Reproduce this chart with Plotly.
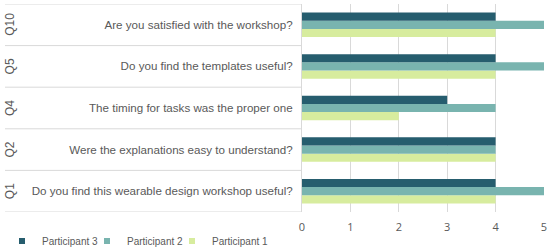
import plotly.graph_objects as go

codes = ["Q1", "Q2", "Q4", "Q5", "Q10"]
questions = [
    "Do you find this wearable design workshop useful?",
    "Were the explanations easy to understand?",
    "The timing for tasks was the proper one",
    "Do you find the templates useful?",
    "Are you satisfied with the workshop?",
]
participant1 = [4, 4, 2, 4, 4]
participant2 = [5, 4, 4, 5, 5]
participant3 = [4, 4, 3, 4, 4]
x_ticks = [0, 1, 2, 3, 4, 5]

series = [
    ("Participant 1", participant1, "#d7ec9e"),
    ("Participant 2", participant2, "#79b4af"),
    ("Participant 3", participant3, "#265d6e"),
]
# legend slots (left to right): Participant 3, Participant 2, Participant 1
legend_ids = {"Participant 3": "legend", "Participant 2": "legend2", "Participant 1": "legend3"}
legend_x = {"legend": 2, "legend2": 87, "legend3": 172}

fig = go.Figure()
for name, vals, col in series:
    fig.add_trace(go.Bar(
        y=codes, x=vals, name=name, orientation="h",
        marker=dict(color=col, line=dict(width=0)),
        legendgroup=name, showlegend=False,
    ))
    fig.add_trace(go.Scatter(
        x=[None], y=[None], mode="markers", name=name, legendgroup=name,
        marker=dict(symbol="square", size=6, color=col),
        legend=legend_ids[name], showlegend=True, hoverinfo="skip",
    ))

text_col = "#595959"
grid_col = "#d9d9d9"

annotations = []
shapes = []
for c in codes:
    annotations.append(dict(
        x=0, xref="paper", y=c, yref="y", text=c, showarrow=False,
        textangle=-90, xshift=-292, xanchor="center", yanchor="middle",
        font=dict(size=12, color=text_col, family="Liberation Sans, Arial"),
    ))
for i in range(len(codes) + 1):
    shapes.append(dict(
        type="line", xref="paper", xsizemode="pixel", xanchor=0,
        x0=-297, x1=0, yref="y", y0=i - 0.5, y1=i - 0.5,
        line=dict(color=grid_col, width=1),
    ))

W = 550
legend_common = dict(
    orientation="h", xref="container", xanchor="left",
    y=-0.14, yref="paper", yanchor="middle",
    font=dict(size=10, color=text_col, family="Liberation Sans, Arial"),
    itemwidth=30, bgcolor="rgba(0,0,0,0)", borderwidth=0,
)
legends = {}
for lid, px in legend_x.items():
    legends[lid] = dict(legend_common, x=px / W)

fig.update_layout(
    width=W, height=249,
    margin=dict(l=302, r=6, t=4, b=37, autoexpand=False),
    paper_bgcolor="white", plot_bgcolor="white",
    barmode="group", bargap=0.41, bargroupgap=0,
    font=dict(family="Liberation Sans, Arial", color=text_col, size=12),
    xaxis=dict(
        range=[0, 5], tickvals=x_ticks, showgrid=True, gridcolor=grid_col,
        gridwidth=1, zeroline=False, showline=False, ticks="",
        tickfont=dict(size=11, color=text_col, family="Open Sans, Liberation Sans"),
        automargin=False, ticklabelstandoff=7,
    ),
    yaxis=dict(
        categoryorder="array", categoryarray=codes,
        tickvals=codes, ticktext=questions, ticks="",
        showline=True, linecolor=grid_col, linewidth=1,
        showgrid=False, zeroline=False, ticklabelstandoff=6,
        tickfont=dict(size=11.6, color=text_col),
        range=[-0.5, len(codes) - 0.5], automargin=False,
    ),
    annotations=annotations, shapes=shapes,
    showlegend=True,
    **legends,
)

fig.write_html("out.html", config={"displayModeBar": False},
               post_script="document.body.style.margin='0';")
